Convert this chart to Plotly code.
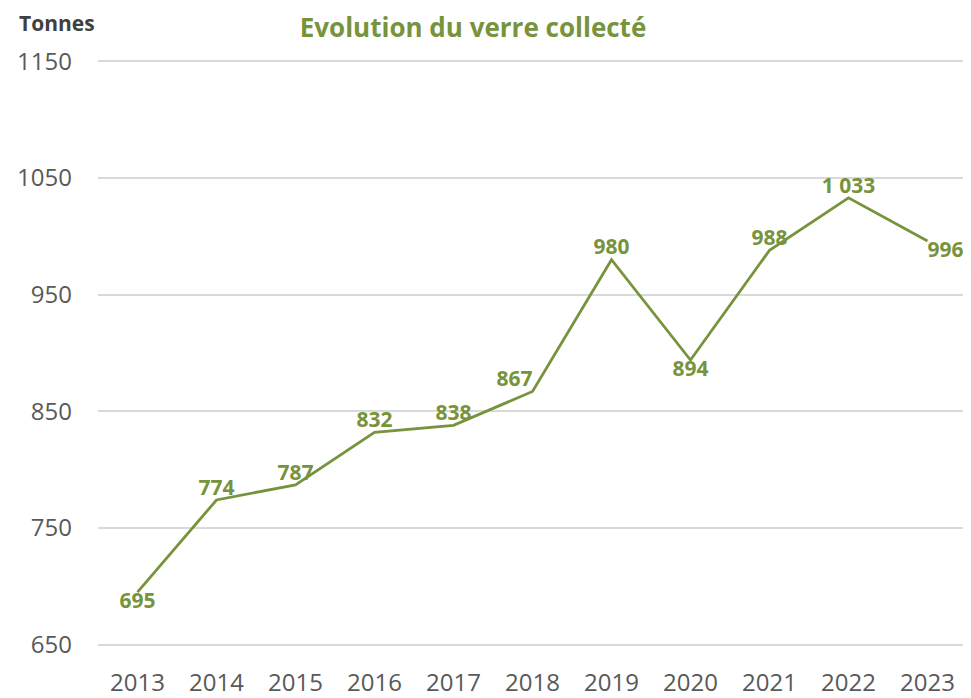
import plotly.graph_objects as go

years = [2013, 2014, 2015, 2016, 2017, 2018, 2019, 2020, 2021, 2022, 2023]
tonnes = [695, 774, 787, 832, 838, 867, 980, 894, 988, 1033, 996]
label_pos = ["bottom center", "top center", "top center", "top center", "top center",
             "top left", "top center", "bottom center", "top center", "top center",
             "bottom right"]
y_ticks = [650, 750, 850, 950, 1050, 1150]

GREEN = "#77933C"
GREY = "#595959"
FONT = "Open Sans, Lato, sans-serif"

fig = go.Figure()
fig.add_trace(go.Scatter(
    x=years,
    y=tonnes,
    mode="lines+text",
    line=dict(color=GREEN, width=2.8),
    texttemplate="%{y:,}",
    textposition=label_pos,
    textfont=dict(family=FONT, size=21, color=GREEN, weight="bold"),
    cliponaxis=False,
    hoverinfo="x+y",
))

# the page body adds an 8px offset, so margins are shifted to compensate
fig.update_layout(
    width=971,
    height=698,
    separators=", ",
    paper_bgcolor="white",
    plot_bgcolor="white",
    margin=dict(l=90, r=12, t=51, b=59, autoexpand=False),
    showlegend=False,
    title=dict(
        text="<b>Evolution du verre collecté</b>",
        x=465 / 971, xref="container", xanchor="center",
        y=0.971, yref="container", yanchor="middle",
        font=dict(family=FONT, size=26, color=GREEN),
    ),
    annotations=[dict(
        text="<b>Tonnes</b>", xref="paper", yref="paper",
        x=-0.092, y=1.062, xanchor="left", yanchor="middle", showarrow=False,
        borderpad=0,
        font=dict(family=FONT, size=21, color="#404040"),
    )],
)

fig.update_xaxes(
    range=[2012.5, 2023.5],
    tickvals=years,
    ticktext=[str(y) for y in years],
    showgrid=False, zeroline=False, showline=False, automargin=False,
    ticks="", ticklabelstandoff=19,
    tickfont=dict(family=FONT, size=24, color=GREY),
)
fig.update_yaxes(
    range=[648, 1152],
    tickvals=y_ticks,
    showgrid=True, gridcolor="#D9D9D9", gridwidth=1.5, automargin=False,
    zeroline=False, showline=False, ticks="", ticklabelstandoff=25,
    tickfont=dict(family=FONT, size=24, color=GREY),
)

fig.write_html("out.html")
